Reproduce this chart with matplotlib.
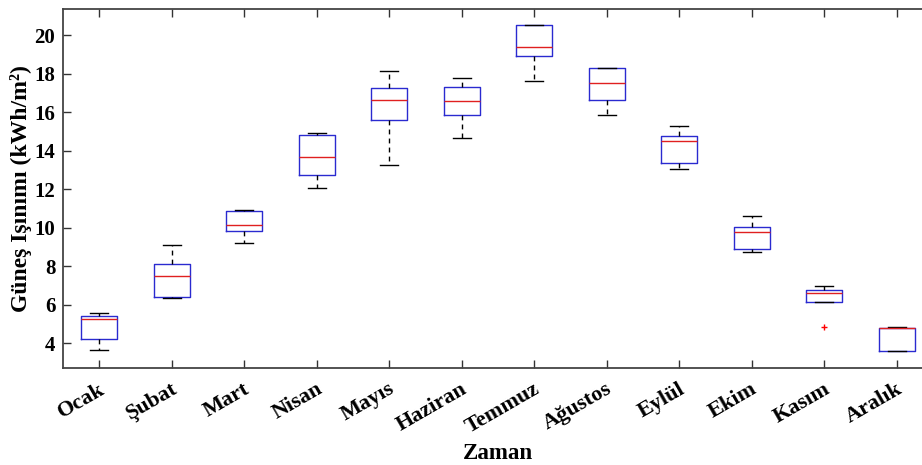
import matplotlib
matplotlib.use("Agg")
import matplotlib.pyplot as plt
import matplotlib.transforms as mtransforms

# monthly solar irradiation
months = ["Ocak", "Şubat", "Mart", "Nisan", "Mayıs", "Haziran",
          "Temmuz", "Ağustos", "Eylül", "Ekim", "Kasım", "Aralık"]
q1 = [4.22, 6.39, 9.81, 12.75, 15.59, 15.86, 18.91, 16.63, 13.39, 8.88, 6.13, 3.56]
med = [5.26, 7.48, 10.14, 13.70, 16.63, 16.59, 19.41, 17.51, 14.51, 9.76, 6.61, 4.77]
q3 = [5.42, 8.13, 10.85, 14.83, 17.27, 17.34, 20.52, 18.32, 14.79, 10.02, 6.77, 4.79]
whis_lo = [3.62, 6.34, 9.20, 12.06, 13.25, 14.67, 17.61, 15.85, 13.06, 8.75, 6.13, 3.56]
whis_hi = [5.56, 9.10, 10.93, 14.93, 18.17, 17.77, 20.52, 18.32, 15.28, 10.61, 6.94, 4.83]
outliers = [[], [], [], [], [], [], [], [], [], [], [4.83], []]

plt.rcParams['font.family'] = ['Liberation Serif', 'DejaVu Serif']
plt.rcParams['font.weight'] = 'bold'

stats = []
for i in range(len(months)):
    stats.append({"med": med[i], "q1": q1[i], "q3": q3[i],
                  "whislo": whis_lo[i], "whishi": whis_hi[i],
                  "fliers": outliers[i], "label": months[i]})

fig = plt.figure(figsize=(9.22, 4.65), dpi=100)
ax = fig.add_axes([63/922, 97/465, 870/922, 358.5/465])

ax.bxp(stats, positions=range(1, 13), widths=0.5, showfliers=True,
       boxprops=dict(color="#2a2ad0", linewidth=1.0),
       medianprops=dict(color="#e02020", linewidth=1.0),
       whiskerprops=dict(color="black", linewidth=1.0, linestyle=(0, (3.5, 3))),
       capprops=dict(color="black", linewidth=1.0),
       flierprops=dict(marker="+", markeredgecolor="red", markersize=4, markeredgewidth=1.0))

ax.set_xlim(0.5, 12.5)
ax.set_ylim(2.7, 21.35)
ax.set_yticks(range(4, 21, 2))
ax.set_xticks(range(1, 13))

ax.tick_params(direction="in", top=True, right=True, length=6, width=1.0,
               color="#333333")
ax.tick_params(axis="y", pad=5.5, labelsize=15)
ax.tick_params(axis="x", pad=8)
for s in ax.spines.values():
    s.set_color("#444444")
    s.set_linewidth(1.3)

ax.set_xticklabels(months, rotation=30, ha="right", fontsize=16, fontweight="bold")
offset = mtransforms.ScaledTranslation(9/100, 0, fig.dpi_scale_trans)
for lbl in ax.get_xticklabels():
    lbl.set_transform(lbl.get_transform() + offset)

ax.set_ylabel("Güneş Işınımı (kWh/m²)", fontsize=17, fontweight="bold", labelpad=2)
ax.set_xlabel("Zaman", fontsize=16.5, fontweight="bold", labelpad=4)

fig.savefig("out.png", dpi=100)
